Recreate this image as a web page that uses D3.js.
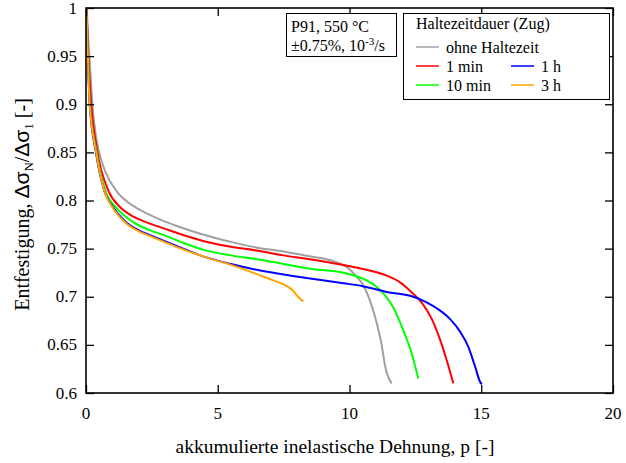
<!DOCTYPE html>
<html>
<head>
<meta charset="utf-8">
<script src="https://cdn.jsdelivr.net/npm/d3@7"></script>
<style>
  html, body { margin: 0; padding: 0; background: #fff; }
  svg { display: block; }
  text { font-family: "Liberation Serif", "Times New Roman", serif; fill: #000; }
</style>
</head>
<body>
<svg id="chart" width="626" height="463"></svg>
<script>
// Softening curves: normalised stress range vs. accumulated inelastic strain
const xTicks = [0, 5, 10, 15, 20];
const yTicks = [0.6, 0.65, 0.7, 0.75, 0.8, 0.85, 0.9, 0.95, 1];

// [p, Δσ_N/Δσ_1] pairs per hold time
const ohneHaltezeit = [
  [0.03, 1.0], [0.08, 0.97], [0.13, 0.95], [0.24, 0.9], [0.35, 0.872], [0.49, 0.851],
  [0.75, 0.829], [1.18, 0.809], [1.6, 0.798], [2.0, 0.791], [2.5, 0.784], [3.0, 0.778],
  [3.5, 0.773], [4.4, 0.765], [5.5, 0.757], [6.5, 0.751], [7.5, 0.747], [8.5, 0.742],
  [9.13, 0.739], [9.5, 0.736], [9.89, 0.731], [10.2, 0.723], [10.5, 0.713], [10.75, 0.698],
  [11.0, 0.676], [11.22, 0.65], [11.36, 0.627], [11.45, 0.618], [11.6, 0.61]
];
const min1 = [
  [0.02, 1.0], [0.07, 0.96], [0.2, 0.9], [0.43, 0.851], [0.87, 0.809], [1.3, 0.793],
  [1.82, 0.783], [2.43, 0.776], [2.96, 0.771], [3.6, 0.765], [4.44, 0.758], [5.5, 0.752],
  [6.48, 0.748], [7.5, 0.743], [8.5, 0.739], [9.77, 0.733], [10.65, 0.728], [11.41, 0.722],
  [11.92, 0.715], [12.42, 0.703], [12.74, 0.694], [13.12, 0.677], [13.43, 0.656],
  [13.69, 0.634], [13.94, 0.61]
];
const min10 = [
  [0.02, 1.0], [0.06, 0.96], [0.15, 0.9], [0.39, 0.851], [0.75, 0.809], [1.2, 0.791],
  [1.82, 0.777], [2.43, 0.769], [2.96, 0.764], [3.6, 0.757], [4.44, 0.749], [5.5, 0.743],
  [6.48, 0.739], [7.5, 0.734], [8.5, 0.729], [9.77, 0.725], [10.3, 0.721], [10.65, 0.717],
  [11.0, 0.711], [11.3, 0.703], [11.66, 0.689], [12.04, 0.665], [12.36, 0.641], [12.61, 0.615]
];
const h1 = [
  [0.02, 1.0], [0.06, 0.96], [0.14, 0.9], [0.37, 0.851], [0.71, 0.809], [1.0, 0.794],
  [1.5, 0.778], [2.0, 0.769], [2.43, 0.764], [2.96, 0.758], [3.5, 0.752], [4.44, 0.742],
  [5.5, 0.734], [6.48, 0.728], [7.5, 0.723], [8.5, 0.719], [9.77, 0.714], [10.5, 0.711],
  [11.41, 0.705], [12.42, 0.7], [12.87, 0.695], [13.31, 0.688], [13.81, 0.677],
  [14.19, 0.664], [14.51, 0.648], [14.76, 0.628], [14.95, 0.612], [15.02, 0.609]
];
const h3 = [
  [0.02, 1.0], [0.06, 0.96], [0.14, 0.9], [0.38, 0.851], [0.71, 0.809], [1.0, 0.793],
  [1.5, 0.777], [2.0, 0.768], [2.43, 0.763], [2.96, 0.757], [3.5, 0.751], [4.44, 0.742],
  [5.84, 0.73], [6.73, 0.721], [7.11, 0.717], [7.49, 0.713], [7.74, 0.709], [7.87, 0.706],
  [8.05, 0.7], [8.25, 0.695]
];

const series = [
  { name: "ohne Haltezeit", color: "#a0a0a0", values: ohneHaltezeit },
  { name: "1 min", color: "#ff0000", values: min1 },
  { name: "10 min", color: "#00ff00", values: min10 },
  { name: "1 h", color: "#0000ff", values: h1 },
  { name: "3 h", color: "#ffa500", values: h3 }
];

const svg = d3.select("#chart");
const plot = { left: 86, right: 613, top: 8, bottom: 393 };

const x = d3.scaleLinear().domain([0, 20]).range([plot.left, plot.right]);
const y = d3.scaleLinear().domain([0.6, 1]).range([plot.bottom, plot.top]);

// clip the curves to the plotting frame
svg.append("defs").append("clipPath").attr("id", "clip")
  .append("rect")
  .attr("x", plot.left).attr("y", plot.top)
  .attr("width", plot.right - plot.left).attr("height", plot.bottom - plot.top);

const line = d3.line()
  .x(d => x(d[0]))
  .y(d => y(d[1]))
  .curve(d3.curveMonotoneX);

svg.append("g").attr("clip-path", "url(#clip)")
  .selectAll("path")
  .data(series)
  .join("path")
  .attr("fill", "none")
  .attr("stroke", d => d.color)
  .attr("stroke-width", 2)
  .attr("stroke-linejoin", "round")
  .attr("d", d => line(d.values));

// axes with inward ticks on all four sides
const tickLen = 8;
const fmtY = d => String(+d.toFixed(2));

svg.append("g").attr("transform", `translate(0,${plot.bottom})`)
  .call(d3.axisBottom(x).tickValues(xTicks).tickSizeInner(-tickLen).tickSizeOuter(0))
  .selectAll("text").remove();
svg.append("g").attr("transform", `translate(0,${plot.top})`)
  .call(d3.axisTop(x).tickValues(xTicks).tickSizeInner(-tickLen).tickSizeOuter(0))
  .selectAll("text").remove();
svg.append("g").attr("transform", `translate(${plot.left},0)`)
  .call(d3.axisLeft(y).tickValues(yTicks).tickSizeInner(-tickLen).tickSizeOuter(0))
  .selectAll("text").remove();
svg.append("g").attr("transform", `translate(${plot.right},0)`)
  .call(d3.axisRight(y).tickValues(yTicks).tickSizeInner(-tickLen).tickSizeOuter(0))
  .selectAll("text").remove();

svg.selectAll(".domain").remove();
svg.selectAll(".tick line").attr("stroke", "#000").attr("stroke-width", 1.3);

// tick labels
svg.append("g").selectAll("text")
  .data(xTicks)
  .join("text")
  .attr("x", d => x(d))
  .attr("y", plot.bottom + 26)
  .attr("text-anchor", "middle")
  .attr("font-size", 17)
  .text(d => d);

svg.append("g").selectAll("text")
  .data(yTicks)
  .join("text")
  .attr("x", plot.left - 9)
  .attr("y", d => y(d))
  .attr("dy", "0.33em")
  .attr("text-anchor", "end")
  .attr("font-size", 17)
  .text(fmtY);

// frame
svg.append("rect")
  .attr("x", plot.left).attr("y", plot.top)
  .attr("width", plot.right - plot.left).attr("height", plot.bottom - plot.top)
  .attr("fill", "none").attr("stroke", "#000").attr("stroke-width", 1.6);

// axis titles
svg.append("text")
  .attr("x", 335)
  .attr("y", 453)
  .attr("text-anchor", "middle")
  .attr("font-size", 19.5)
  .text("akkumulierte inelastische Dehnung, p [-]");

const yt = svg.append("text")
  .attr("transform", `translate(29,${(plot.top + plot.bottom) / 2 + 4}) rotate(-90)`)
  .attr("text-anchor", "middle")
  .attr("font-size", 20);
yt.append("tspan").text("Entfestigung, ");
yt.append("tspan").style("font-family", "'Liberation Sans', Arial, sans-serif").attr("font-size", 21).text("Δσ");
yt.append("tspan").attr("font-size", 13).attr("dy", 4).text("N");
yt.append("tspan").attr("dy", -4).text("/");
yt.append("tspan").style("font-family", "'Liberation Sans', Arial, sans-serif").attr("font-size", 21).text("Δσ");
yt.append("tspan").attr("font-size", 13).attr("dy", 4).text("1");
yt.append("tspan").attr("dy", -4).text(" [-]");

// test condition box
const info = svg.append("g");
info.append("rect")
  .attr("x", 286.5).attr("y", 13.5).attr("width", 110).attr("height", 43)
  .attr("fill", "#fff").attr("stroke", "#000").attr("stroke-width", 1);
info.append("text").attr("x", 291).attr("y", 32).attr("font-size", 16).text("P91, 550 °C");
const t2 = info.append("text").attr("x", 291).attr("y", 51).attr("font-size", 16);
t2.append("tspan").text("±0.75%, 10");
t2.append("tspan").attr("font-size", 11).attr("dy", -6).text("-3");
t2.append("tspan").attr("dy", 6).text("/s");

// legend
const leg = svg.append("g");
leg.append("rect")
  .attr("x", 403.5).attr("y", 13.5).attr("width", 206).attr("height", 86)
  .attr("fill", "#fff").attr("stroke", "#000").attr("stroke-width", 1);
leg.append("text").attr("x", 416).attr("y", 29).attr("font-size", 16).text("Haltezeitdauer (Zug)");

const legendPos = [
  { lx: 416, ly: 47 },
  { lx: 416, ly: 66 },
  { lx: 416, ly: 85 },
  { lx: 511, ly: 66 },
  { lx: 511, ly: 85 }
];
series.forEach((s, i) => {
  const p = legendPos[i];
  leg.append("line")
    .attr("x1", p.lx).attr("x2", p.lx + 23)
    .attr("y1", p.ly).attr("y2", p.ly)
    .attr("stroke", s.color).attr("stroke-width", 1.5);
  leg.append("text")
    .attr("x", p.lx + 30).attr("y", p.ly + 5.5)
    .attr("font-size", 16)
    .text(s.name);
});
</script>
</body>
</html>
